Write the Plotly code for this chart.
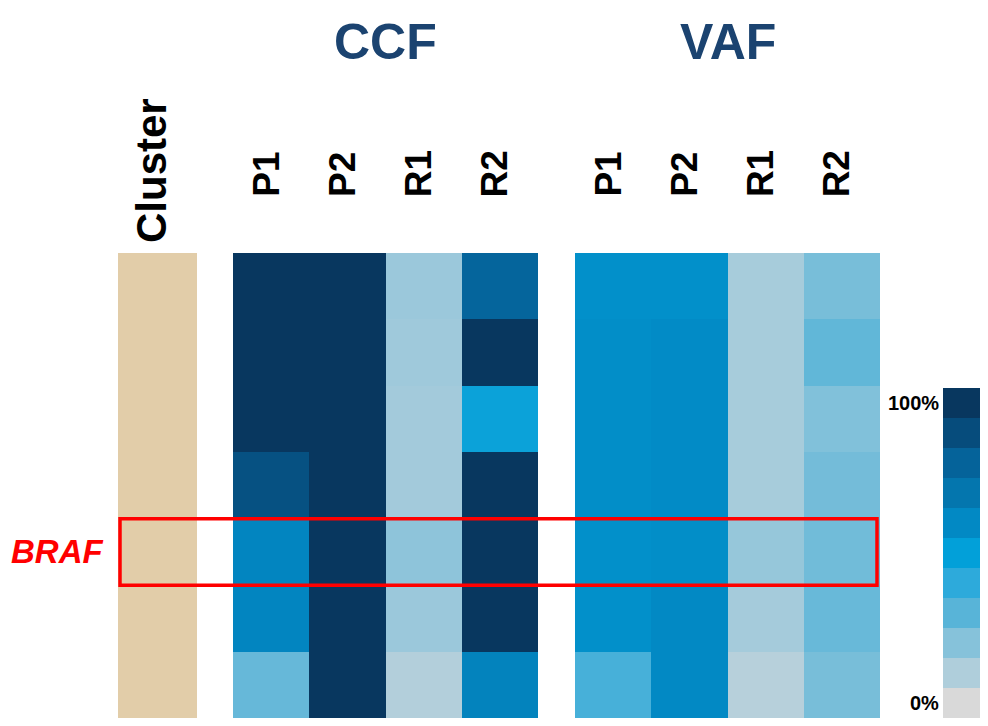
import plotly.graph_objects as go

# ---------------- data ----------------
samples = ["P1", "P2", "R1", "R2"]
rows = [0, 1, 2, 3, 4, 5, 6]          # mutation clusters, top to bottom
cluster_vals = [1, 1, 1, 1, 1, 1, 1]
braf_row = 4

ccf_P1 = [1.00, 1.00, 1.00, 0.88, 0.62, 0.62, 0.27]
ccf_P2 = [1.00, 1.00, 1.00, 1.00, 1.00, 1.00, 1.00]
ccf_R1 = [0.15, 0.14, 0.13, 0.13, 0.18, 0.15, 0.09]
ccf_R2 = [0.79, 1.00, 0.48, 1.00, 1.00, 1.00, 0.63]

vaf_P1 = [0.57, 0.58, 0.58, 0.58, 0.57, 0.57, 0.34]
vaf_P2 = [0.57, 0.59, 0.59, 0.59, 0.58, 0.60, 0.60]
vaf_R1 = [0.12, 0.12, 0.12, 0.12, 0.16, 0.125, 0.08]
vaf_R2 = [0.23, 0.28, 0.21, 0.24, 0.245, 0.265, 0.23]

legend_levels = [0.0, 0.1, 0.2, 0.3, 0.4, 0.5, 0.6, 0.7, 0.8, 0.9, 1.0]
legend_labels = {0.0: "0%", 1.0: "100%"}

# ---------------- styles ----------------
palette = ["#D9D9D9", "#AFCEDB", "#86C2DA", "#58B4D8", "#2DAADB", "#02A0D9",
           "#0289C4", "#0476AE", "#05639A", "#064C7C", "#08375F"]
colorscale = [[i / 10, c] for i, c in enumerate(palette)]
OFF = 8                      # page body margin
W, H = 988 - OFF, 726 - OFF
FONT = "Liberation Sans, Arial, sans-serif"


def px(x):
    return (x - OFF) / W


def py(y):
    return 1 - (y - OFF) / H


def cols(*series):
    return [list(r) for r in zip(*series)]


fig = go.Figure()

fig.add_trace(go.Heatmap(
    z=[[v] for v in cluster_vals], x=["Cluster"], y=rows,
    colorscale=[[0, "#E2CDA9"], [1, "#E2CDA9"]], showscale=False,
    xaxis="x", yaxis="y", hoverinfo="skip"))

fig.add_trace(go.Heatmap(
    z=cols(ccf_P1, ccf_P2, ccf_R1, ccf_R2), x=samples, y=rows,
    colorscale=colorscale, zmin=0, zmax=1, showscale=False,
    xaxis="x2", yaxis="y"))

fig.add_trace(go.Heatmap(
    z=cols(vaf_P1, vaf_P2, vaf_R1, vaf_R2), x=samples, y=rows,
    colorscale=colorscale, zmin=0, zmax=1, showscale=False,
    xaxis="x3", yaxis="y"))

fig.add_trace(go.Heatmap(
    z=[[v] for v in legend_levels], x=["legend"], y=legend_levels,
    colorscale=colorscale, zmin=0, zmax=1, showscale=False,
    xaxis="x4", yaxis="y2", hoverinfo="skip"))

hidden = dict(visible=False, showgrid=False, zeroline=False, fixedrange=True)
fig.update_layout(
    width=W, height=H, margin=dict(l=0, r=0, t=0, b=0),
    paper_bgcolor="white", plot_bgcolor="white",
    font=dict(family=FONT, color="black"),
    xaxis=dict(domain=[px(118), px(197)], range=[-0.5, 0.5], **hidden),
    xaxis2=dict(domain=[px(233), px(538)], range=[-0.5, 3.5], **hidden),
    xaxis3=dict(domain=[px(575), px(880)], range=[-0.5, 3.5], **hidden),
    xaxis4=dict(domain=[px(943), px(981)], range=[-0.5, 0.5], **hidden),
    yaxis=dict(domain=[py(718), py(253)], range=[6.5, -0.5], **hidden),
    yaxis2=dict(domain=[py(718), py(388)], range=[-0.05, 1.05], anchor="x4", **hidden),
)

ann = []
# block titles
for title, a, b in (("CCF", 233, 538), ("VAF", 575, 880)):
    ann.append(dict(text=title, xref="paper", yref="paper", x=(px(a) + px(b)) / 2,
                    y=py(42), xanchor="center", yanchor="middle", showarrow=False,
                    font=dict(size=50, color="#1B4370", family=FONT, weight="bold")))
# cluster header
ann.append(dict(text="Cluster", xref="x", yref="paper", x="Cluster", y=py(245),
                xanchor="center", yanchor="bottom", textangle=-90, showarrow=False,
                xshift=-6,
                font=dict(size=42, color="black", family=FONT, weight="bold")))
# sample headers
for xa in ("x2", "x3"):
    for s in samples:
        ann.append(dict(text=s, xref=xa, yref="paper", x=s, y=py(199),
                        xanchor="center", yanchor="bottom", textangle=-90,
                        showarrow=False, xshift=-5,
                        font=dict(size=37, color="black", family=FONT, weight="bold")))
# BRAF label
ann.append(dict(text="<i>BRAF</i>", xref="paper", yref="y", x=px(57), y=braf_row,
                xanchor="center", yanchor="middle", showarrow=False,
                font=dict(size=33, color="#FF0000", family=FONT, weight="bold")))
# legend labels
for lv, lab in legend_labels.items():
    ann.append(dict(text=lab, xref="paper", yref="y2", x=px(941), y=lv,
                    xanchor="right", yanchor="middle", showarrow=False,
                    font=dict(size=20, color="black", family=FONT, weight="bold")))
fig.update_layout(annotations=ann)

fig.add_shape(type="rect", xref="paper", yref="y",
              x0=px(120), x1=px(877), y0=braf_row - 0.5, y1=braf_row + 0.5,
              line=dict(color="#FF0000", width=3.5), fillcolor="rgba(0,0,0,0)")

fig.write_html("out.html")
